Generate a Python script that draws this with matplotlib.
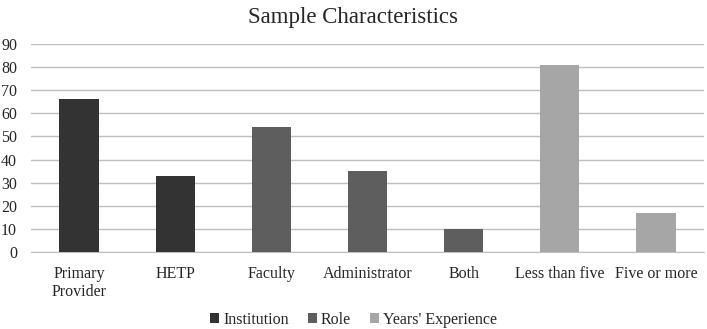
import numpy as np
import matplotlib
matplotlib.use('Agg')
from matplotlib import pyplot as plt

categories = ['Primary\nProvider', 'HETP', 'Faculty', 'Administrator', 'Both',
              'Less than five', 'Five or more']
values = [66, 33, 54, 35, 10, 81, 17]
groups = ['Institution', 'Institution', 'Role', 'Role', 'Role',
          "Years' Experience", "Years' Experience"]
group_names = ['Institution', 'Role', "Years' Experience"]
group_colors = {'Institution': '#333333', 'Role': '#5e5e5e',
                "Years' Experience": '#a6a6a6'}

plt.rcParams['font.family'] = ['Liberation Serif', 'DejaVu Serif']

fig = plt.figure(figsize=(7.07, 3.29), dpi=100)
ax = fig.add_axes([31 / 707, 1 - 252 / 329, (704 - 31) / 707, (252 - 44) / 329])

x = np.arange(len(categories))
for name in group_names:
    idx = [i for i, g in enumerate(groups) if g == name]
    ax.bar(x[idx], [values[i] for i in idx], width=0.41,
           color=group_colors[name], label=name, zorder=3)

ax.set_xlim(-0.5, len(categories) - 0.5)
ax.set_ylim(0, 90)
ax.set_yticks(np.arange(0, 91, 10))
ax.yaxis.grid(True, color='#bfbfbf', linewidth=1.0, zorder=0)
ax.set_xticks(x)
ax.set_xticklabels(categories, fontsize=11.5, color='#262626', linespacing=1.15)
ax.tick_params(axis='y', labelsize=11.5, labelcolor='#262626', length=0, pad=10)
ax.tick_params(axis='x', length=0, pad=10)
for side in ['top', 'right', 'left']:
    ax.spines[side].set_visible(False)
ax.spines['bottom'].set_color('#bfbfbf')

fig.suptitle('Sample Characteristics', fontsize=16.5, color='#262626', y=0.98)

fig.legend(loc='lower center', bbox_to_anchor=(0.5, -0.04), ncol=3, frameon=False,
           fontsize=11.5, handlelength=0.55, handleheight=0.55, handletextpad=0.25,
           columnspacing=1.2, labelcolor='#262626')

fig.savefig('out.png', dpi=100)
